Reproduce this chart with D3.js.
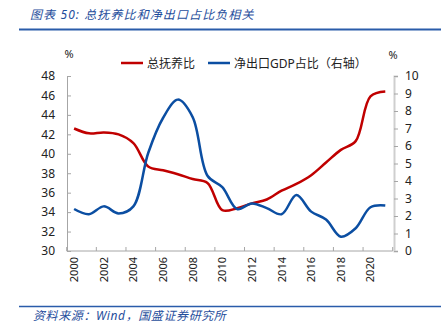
<!DOCTYPE html>
<html lang="zh">
<head>
<meta charset="UTF-8">
<script src="https://d3js.org/d3.v7.min.js"></script>
<style>
  body { margin: 0; background: #fff; }
  text { font-family: "Noto Sans", "Noto Sans CJK SC", sans-serif; }
</style>
</head>
<body>
<script>
// 年份、总抚养比（左轴，%）、净出口占GDP比重（右轴，%）
const years = d3.range(2000, 2022);
const dependency = [42.6, 42.1, 42.2, 42.0, 41.1, 38.7, 38.3, 37.9, 37.4, 37.0, 34.2, 34.4,
                    34.9, 35.3, 36.2, 36.9, 37.8, 39.1, 40.4, 41.3, 45.9, 46.4];
const netExport = [2.4, 2.1, 2.55, 2.15, 2.55, 5.6, 7.6, 8.65, 7.65, 4.3, 3.65, 2.4,
                   2.72, 2.45, 2.1, 3.2, 2.25, 1.8, 0.82, 1.3, 2.5, 2.6];
const leftTicks = d3.range(30, 49, 2);
const rightTicks = d3.range(0, 11, 1);
const labelYears = d3.range(2000, 2022, 2);

const W = 448, H = 323;
const red = "#c00000", blue = "#0b4ea2", navy = "#1f4e9c";

const svg = d3.select("body").append("svg")
  .attr("width", W).attr("height", H);

// 标题与上下分隔线
svg.append("text")
  .attr("x", 30).attr("y", 19)
  .attr("font-family", "Noto Sans CJK SC")
  .attr("font-size", 12).attr("font-style", "italic")
  .attr("letter-spacing", 1.1)
  .attr("fill", navy)
  .text("图表 50: 总抚养比和净出口占比负相关");
svg.append("line").attr("x1", 19).attr("x2", 441).attr("y1", 29.5).attr("y2", 29.5)
  .attr("stroke", "#2a5caa").attr("stroke-width", 2);
svg.append("line").attr("x1", 19).attr("x2", 441).attr("y1", 306.5).attr("y2", 306.5)
  .attr("stroke", "#2a5caa").attr("stroke-width", 1.5);
svg.append("text")
  .attr("x", 33).attr("y", 320)
  .attr("font-family", "Noto Sans CJK SC")
  .attr("font-size", 12).attr("font-style", "italic")
  .attr("letter-spacing", 0.6)
  .attr("fill", navy)
  .text("资料来源：Wind，国盛证券研究所");

// 比例尺
const x = d3.scaleBand().domain(years).range([66.7, 392.7]).padding(0);
const cx = d => x(d) + x.bandwidth() / 2;
const yL = d3.scaleLinear().domain([30, 48]).range([251, 76]);
const yR = d3.scaleLinear().domain([0, 10]).range([251, 76]);

const axisColor = "#a6a6a6";

// 左轴
const gL = svg.append("g").attr("transform", "translate(67,0)")
  .call(d3.axisLeft(yL).tickValues(leftTicks).tickSize(-4).tickPadding(12));
gL.select(".domain").attr("stroke", axisColor);
gL.selectAll(".tick line").attr("stroke", axisColor);
gL.selectAll(".tick text").attr("font-size", 12).attr("fill", "#222")
  .attr("font-family", "Noto Sans");

// 右轴
const gR = svg.append("g").attr("transform", "translate(394,0)")
  .call(d3.axisRight(yR).tickValues(rightTicks).tickSize(4).tickPadding(7));
gR.select(".domain").attr("stroke", "#cfcfcf").attr("stroke-width", 2);
gR.selectAll(".tick line").attr("stroke", axisColor);
gR.selectAll(".tick text").attr("font-size", 12).attr("fill", "#222")
  .attr("font-family", "Noto Sans");

// 横轴：刻度位于每两年的分界处
const gX = svg.append("g");
gX.append("line").attr("x1", 66.7).attr("x2", 392.7).attr("y1", 251).attr("y2", 251)
  .attr("stroke", axisColor);
const tickPos = labelYears.map(d => x(d)).concat([x(2021) + x.bandwidth()]);
gX.selectAll(".xt").data(tickPos).join("line")
  .attr("x1", d => d).attr("x2", d => d).attr("y1", 251).attr("y2", 247)
  .attr("stroke", axisColor);
gX.selectAll(".xl").data(labelYears).join("text")
  .attr("transform", d => `translate(${cx(d) + 4},257) rotate(-90)`)
  .attr("text-anchor", "end")
  .attr("font-size", 11).attr("fill", "#222")
  .text(d => d);

// 单位
svg.append("text").attr("x", 69).attr("y", 58).attr("font-size", 11)
  .attr("text-anchor", "middle").attr("fill", "#222").text("%");
svg.append("text").attr("x", 393).attr("y", 59).attr("font-size", 11)
  .attr("text-anchor", "middle").attr("fill", "#222").text("%");

// 折线
const lineL = d3.line().x((d, i) => cx(years[i])).y(d => yL(d))
  .curve(d3.curveCatmullRom.alpha(0.5));
const lineR = d3.line().x((d, i) => cx(years[i])).y(d => yR(d))
  .curve(d3.curveCatmullRom.alpha(0.5));

svg.append("path").datum(dependency).attr("d", lineL)
  .attr("fill", "none").attr("stroke", red).attr("stroke-width", 2.5);
svg.append("path").datum(netExport).attr("d", lineR)
  .attr("fill", "none").attr("stroke", blue).attr("stroke-width", 2.5);

// 图例
const legend = [
  { label: "总抚养比", color: red, x: 121 },
  { label: "净出口GDP占比（右轴）", color: blue, x: 208 }
];
const lg = svg.selectAll(".lg").data(legend).join("g")
  .attr("transform", d => `translate(${d.x},63)`);
lg.append("line").attr("x1", 0).attr("x2", 22).attr("stroke", d => d.color)
  .attr("stroke-width", 2.5);
lg.append("text").attr("x", 26).attr("y", 4.5)
  .attr("font-family", "Noto Sans CJK SC").attr("font-size", 12)
  .attr("fill", "#222").text(d => d.label);
</script>
</body>
</html>
